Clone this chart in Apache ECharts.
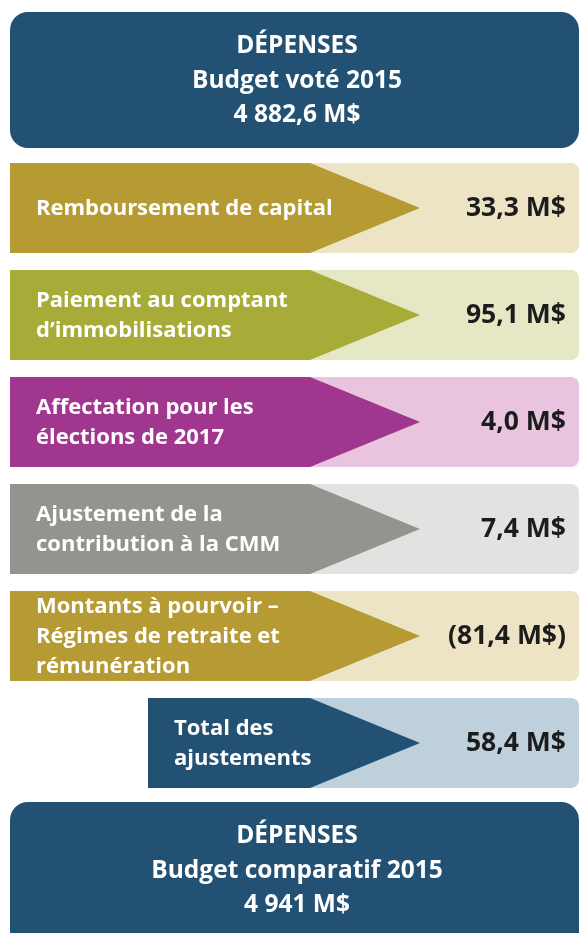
<!DOCTYPE html>
<html>
<head>
<meta charset="utf-8">
<script src="https://cdn.jsdelivr.net/npm/echarts@6/dist/echarts.min.js"></script>
<style>
  html, body { margin: 0; padding: 0; background: #fff; }
  #chart { width: 581px; height: 933px; }
</style>
</head>
<body>
<div id="chart"></div>
<script>
  // données
  const budgetVote = 4882.6;
  const budgetComparatif = 4941;
  const labels = [
    "Remboursement de capital",
    "Paiement au comptant\nd’immobilisations",
    "Affectation pour les\nélections de 2017",
    "Ajustement de la\ncontribution à la CMM",
    "Montants à pourvoir –\nRégimes de retraite et\nrémunération",
    "Total des\najustements",
  ];
  const values = [33.3, 95.1, 4.0, 7.4, -81.4, 58.4];

  // couleurs (foncé / pâle)
  const darkColors = ["#b69a33", "#a7ab38", "#a1368f", "#939490", "#b69a33", "#225173"];
  const lightColors = ["#ece4c4", "#e6e7c5", "#e9c4de", "#e2e3e0", "#ece4c4", "#bed0db"];

  const fmt = (v, dec) => {
    const s = Math.abs(v).toFixed(dec).replace(".", ",");
    const parts = s.split(",");
    parts[0] = parts[0].replace(/\B(?=(\d{3})+(?!\d))/g, " ");
    const txt = parts.join(",") + " M$";
    return v < 0 ? "(" + txt + ")" : txt;
  };

  const FONT = "'Open Sans', Lato, sans-serif";
  const myChart = echarts.init(document.getElementById("chart"));

  const box = (y, h, lines) => ({
    type: "group",
    children: [
      {
        type: "rect",
        shape: { x: 10, y: y, width: 569, height: h, r: 18 },
        style: { fill: "#225173" },
      },
      {
        type: "text",
        x: 297,
        y: y + 69,
        style: {
          text: lines.join("\n"),
          fill: "#fff",
          font: "bold 24.5px " + FONT,
          lineHeight: 34.5,
          align: "center",
          verticalAlign: "middle",
        },
      },
    ],
  });

  const option = {
    animation: false,
    grid: { left: 0, right: 0, top: 154.5, height: 642 },
    xAxis: { type: "value", min: -100, max: 100, show: false },
    yAxis: {
      type: "category",
      data: labels,
      inverse: true,
      show: false,
    },
    graphic: [
      box(12, 136, ["DÉPENSES", "Budget voté 2015", fmt(budgetVote, 1)]),
      box(802, 160, ["DÉPENSES", "Budget comparatif 2015", fmt(budgetComparatif, 0)]),
    ],
    series: [
      {
        type: "custom",
        encode: { x: 0, y: 1 },
        data: values.map((v, i) => [v, i]),
        renderItem: (params, api) => {
          const i = api.value(1);
          const v = api.value(0);
          const cy = api.coord([0, i])[1];
          const h = api.size([0, 1])[1] - 17;
          const top = cy - h / 2;
          const isTotal = i === labels.length - 1;
          const x0 = isTotal ? 148 : 10;
          return {
            type: "group",
            children: [
              {
                type: "rect",
                shape: { x: x0, y: top, width: 579 - x0, height: h, r: [0, 8, 8, 0] },
                style: { fill: lightColors[i] },
              },
              {
                type: "polygon",
                shape: {
                  points: [
                    [x0, top],
                    [310, top],
                    [420, cy],
                    [310, top + h],
                    [x0, top + h],
                  ],
                },
                style: { fill: darkColors[i] },
              },
              {
                type: "text",
                x: x0 + 26,
                y: cy + 1,
                style: {
                  text: labels[i],
                  fill: "#fff",
                  font: "bold 22px " + FONT,
                  lineHeight: 30,
                  align: "left",
                  verticalAlign: "middle",
                },
              },
              {
                type: "text",
                x: 566,
                y: cy,
                style: {
                  text: fmt(v, 1),
                  fill: "#1c1c1c",
                  font: "bold 26.5px " + FONT,
                  align: "right",
                  verticalAlign: "middle",
                },
              },
            ],
          };
        },
      },
    ],
  };
  myChart.setOption(option);
</script>
</body>
</html>
